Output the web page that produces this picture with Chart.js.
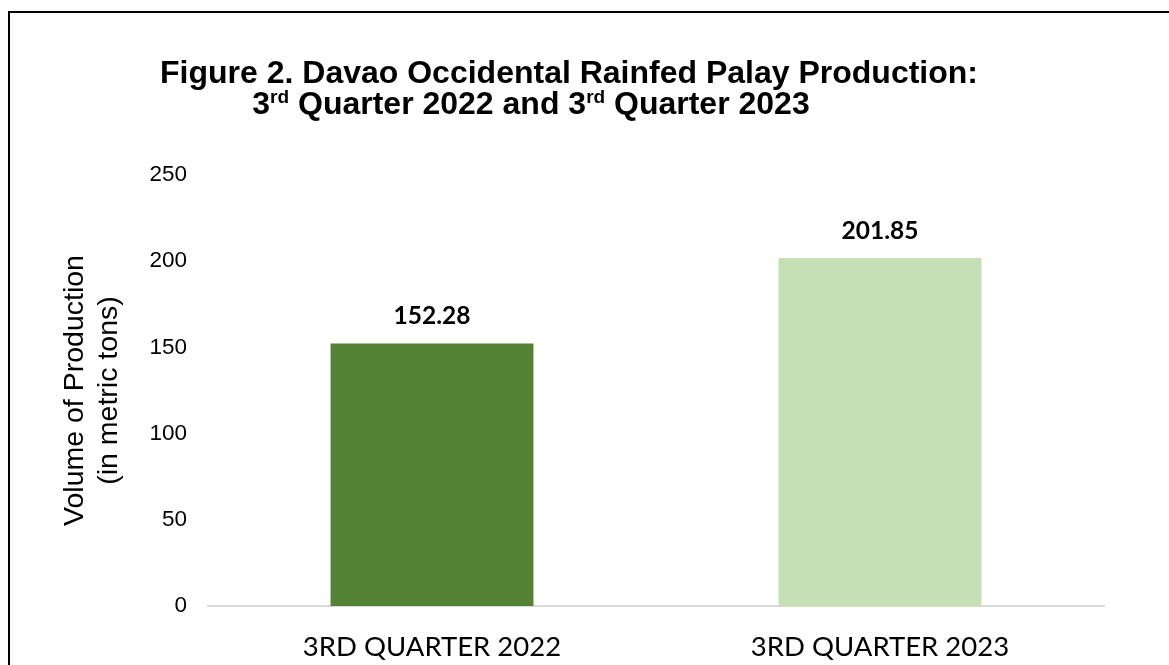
<!DOCTYPE html>
<html>
<head>
<meta charset="utf-8">
<script src="https://cdn.jsdelivr.net/npm/chart.js@4/dist/chart.umd.min.js"></script>
<style>
  html, body { margin: 0; padding: 0; background: #fff; }
  #wrap { position: relative; width: 1169px; height: 665px; overflow: hidden; }
  #frame { position: absolute; left: 8px; top: 11px; width: 1300px; height: 800px;
           border-left: 2px solid #000; border-top: 2px solid #000; box-sizing: border-box; }
  .t { position: absolute; font-family: "Liberation Sans", Arial, sans-serif; font-weight: bold;
       font-size: 32px; color: #000; white-space: nowrap; transform: translate(-50%, -50%); line-height: 1; }
  .t sup { font-size: 19px; vertical-align: 0; position: relative; top: -11px; }
  canvas { position: absolute; left: 0; top: 0; }
</style>
</head>
<body>
<div id="wrap">
  <div id="frame"></div>
  <canvas id="c" width="1169" height="665"></canvas>
  <div class="t" style="left:569px; top:72px;">Figure 2. Davao Occidental Rainfed Palay Production:</div>
  <div class="t" style="left:531px; top:103px;">3<sup>rd</sup> Quarter 2022 and 3<sup>rd</sup> Quarter 2023</div>
</div>
<script>
const categories = ["3RD QUARTER 2022", "3RD QUARTER 2023"];
const production = [152.28, 201.85];
const barColors = ["#548235", "#C5E0B4"];
const yTicks = [0, 50, 100, 150, 200, 250];
const yTitle = ["Volume of Production", "(in metric tons)"];

const valueLabels = {
  id: "valueLabels",
  afterDatasetsDraw(chart) {
    const ctx = chart.ctx;
    ctx.save();
    ctx.font = "bold 24.5px Lato, 'Open Sans', sans-serif";
    ctx.fillStyle = "#000";
    ctx.textAlign = "center";
    ctx.textBaseline = "middle";
    chart.data.datasets.forEach((ds, di) => {
      chart.getDatasetMeta(di).data.forEach((bar, i) => {
        ctx.fillText(ds.data[i].toFixed(2), bar.x, bar.y - 27);
      });
    });
    ctx.restore();
  }
};

new Chart(document.getElementById("c"), {
  type: "bar",
  data: {
    labels: categories,
    datasets: [{
      data: production,
      backgroundColor: barColors,
      borderWidth: 0,
      categoryPercentage: 1,
      barPercentage: 0.453
    }]
  },
  options: {
    responsive: false,
    animation: false,
    devicePixelRatio: 1,
    layout: { padding: { top: 175, right: 65, left: 0, bottom: 0 } },
    plugins: { legend: { display: false }, tooltip: { enabled: false }, title: { display: false } },
    scales: {
      x: {
        grid: { display: false, drawTicks: false },
        border: { display: true, color: "#d9d9d9", width: 2 },
        ticks: { color: "#000", font: { family: "Lato, 'Open Sans', sans-serif", size: 27.5 }, padding: 25, maxRotation: 0 },
        afterFit(scale) { scale.height = 59; }
      },
      y: {
        min: 0, max: 250,
        afterBuildTicks(scale) { scale.ticks = yTicks.map(v => ({ value: v })); },
        grid: { display: false, drawTicks: false },
        border: { display: false },
        ticks: { color: "#000", font: { family: "'Liberation Sans', Arial, sans-serif", size: 22.5 }, padding: 21 },
        title: {
          display: true, text: yTitle, color: "#000",
          font: { family: "'Liberation Sans', Arial, sans-serif", size: 28.5 },
          lineHeight: 1.05,
          padding: { top: 58, bottom: 0 }
        },
        afterFit(scale) { scale.width = 208; }
      }
    }
  },
  plugins: [valueLabels]
});
</script>
</body>
</html>
